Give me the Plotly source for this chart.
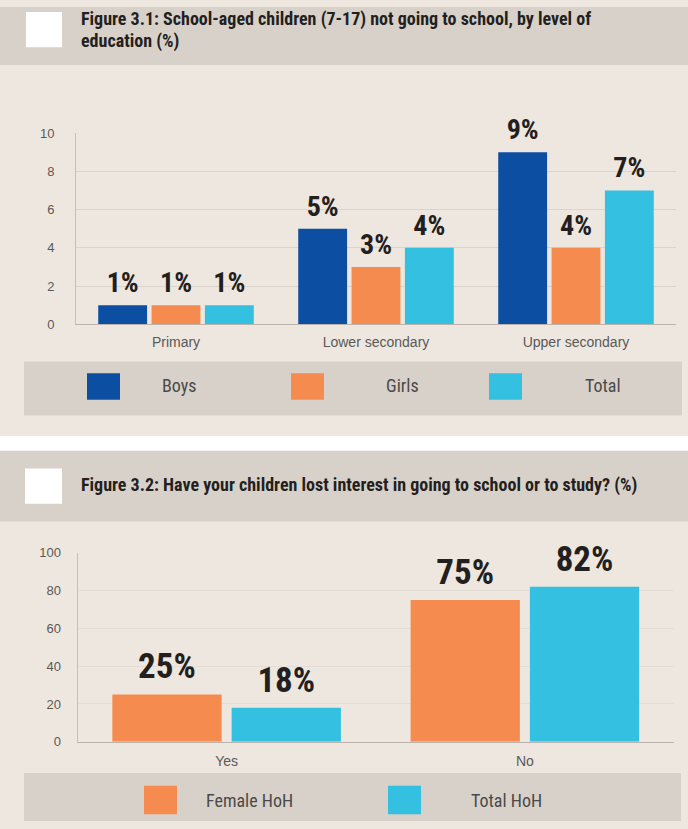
import plotly.graph_objects as go

W, H = 688, 829

# ---------------- data ----------------
levels = ["Primary", "Lower secondary", "Upper secondary"]
boys = [1, 5, 9]
girls = [1, 3, 4]
total = [1, 4, 7]
series1_names = ["Boys", "Girls", "Total"]

answers = ["Yes", "No"]
female_hoh = [25, 75]
total_hoh = [18, 82]
series2_names = ["Female HoH", "Total HoH"]

y1_ticks = [0, 2, 4, 6, 8, 10]
y2_ticks = [0, 20, 40, 60, 80, 100]

title1_lines = ["Figure 3.1: School-aged children (7-17) not going to school, by level of",
                "education (%)"]
title2 = "Figure 3.2: Have your children lost interest in going to school or to study? (%)"

# ---------------- styles ----------------
BLUE = "#0c4ea1"
ORANGE = "#f58b4f"
CYAN = "#33c0e1"
LIGHT_BG = "#eee7df"
BAND = "#d8d1c9"
DARK = "#231f20"
COND = "Roboto Condensed, Liberation Sans Narrow, DejaVu Sans Condensed, Roboto, sans-serif"
REG = "Liberation Sans, Arial, sans-serif"

colors1 = [BLUE, ORANGE, CYAN]
colors2 = [ORANGE, CYAN]


def px(x):
    return x / W


def py(y):
    return 1 - y / H


fig = go.Figure()

# chart 1 bars and labels
for name, vals, col in zip(series1_names, [boys, girls, total], colors1):
    fig.add_bar(x=levels, y=vals, name=name, marker_color=col, marker_line_width=0,
                xaxis="x", yaxis="y", showlegend=False, hoverinfo="skip")
for name, vals in zip(series1_names, [boys, girls, total]):
    fig.add_scatter(x=levels, y=vals, mode="markers+text", text=[f"{v}%" for v in vals],
                    textposition="top center", marker=dict(size=8, opacity=0),
                    textfont=dict(family=COND, size=28, color=DARK, weight="bold"),
                    cliponaxis=False, xaxis="x", yaxis="y", showlegend=False, hoverinfo="skip")

# chart 2 bars and labels
for name, vals, col in zip(series2_names, [female_hoh, total_hoh], colors2):
    fig.add_bar(x=answers, y=vals, name=name, marker_color=col, marker_line_width=0,
                xaxis="x2", yaxis="y2", showlegend=False, hoverinfo="skip")
for name, vals in zip(series2_names, [female_hoh, total_hoh]):
    fig.add_scatter(x=answers, y=vals, mode="markers+text", text=[f"{v}%" for v in vals],
                    textposition="top center", marker=dict(size=10, opacity=0),
                    textfont=dict(family=COND, size=35, color=DARK, weight="bold"),
                    cliponaxis=False, xaxis="x2", yaxis="y2", showlegend=False, hoverinfo="skip")

shapes = []
annotations = []


def rect(x0, y0, x1, y1, color):
    shapes.append(dict(type="rect", xref="paper", yref="paper", x0=px(x0), x1=px(x1),
                       y0=py(y1), y1=py(y0), fillcolor=color, line=dict(width=0), layer="below"))


# panel backgrounds
rect(0, 0, W, 59, BAND)
rect(0, 437, W, 452, "#ffffff")
rect(0, 452, W, 524, BAND)
rect(26, 5, 62, 41, "#ffffff")
rect(25, 470, 62, 506, "#ffffff")
rect(24, 361, 682, 416, BAND)
rect(24, 780, 681, 829, BAND)

# titles
for line, yc in zip(title1_lines, [12.7, 34.4]):
    annotations.append(dict(text=f"<b>{line}</b>", xref="paper", yref="paper", x=px(79), y=py(yc),
                            xanchor="left", yanchor="middle", align="left", showarrow=False,
                            font=dict(family=COND, size=18, color=DARK)))
annotations.append(dict(text=f"<b>{title2}</b>", xref="paper", yref="paper", x=px(79), y=py(486.7),
                        xanchor="left", yanchor="middle", align="left", showarrow=False,
                        font=dict(family=COND, size=18, color=DARK)))

# legends
leg1_sq = [87, 291, 489]
leg1_tx = [160, 384, 583]
for name, col, sx, tx in zip(series1_names, colors1, leg1_sq, leg1_tx):
    rect(sx, 373, sx + 33, 400, col)
    annotations.append(dict(text=name, xref="paper", yref="paper", x=px(tx), y=py(385),
                            xanchor="left", yanchor="middle", showarrow=False,
                            font=dict(family=COND, size=18, color="#4a4a4a")))
leg2_sq = [144, 388]
leg2_tx = [204, 469]
for name, col, sx, tx in zip(series2_names, colors2, leg2_sq, leg2_tx):
    rect(sx, 793, sx + 33, 822, col)
    annotations.append(dict(text=name, xref="paper", yref="paper", x=px(tx), y=py(808),
                            xanchor="left", yanchor="middle", showarrow=False,
                            font=dict(family=COND, size=18, color="#4a4a4a")))

ytickfont = dict(family=REG, size=13, color="#595959")
xtickfont = dict(family=REG, size=14, color="#595959")

fig.update_layout(
    width=W, height=H, margin=dict(l=0, r=0, t=0, b=0),
    paper_bgcolor=LIGHT_BG, plot_bgcolor="rgba(0,0,0,0)",
    barmode="group", bargap=0.2, bargroupgap=0.084,
    scattermode="group", scattergap=0.2,
    hovermode=False, showlegend=False,
    shapes=shapes, annotations=annotations,
    xaxis=dict(domain=[px(76), px(676)], anchor="y", type="category", showline=True,
               linecolor="#bab4ad", linewidth=1, ticks="outside", ticklen=5,
               tickcolor="rgba(0,0,0,0)", tickfont=xtickfont, showgrid=False, zeroline=False,
               fixedrange=True),
    yaxis=dict(domain=[py(323.3), py(128.3)], anchor="x", range=[0, 10], tickvals=y1_ticks,
               showgrid=True, gridcolor="#dbd4cc", gridwidth=1, showline=True,
               linecolor="#c5bfb8", ticks="outside", ticklen=18, tickcolor="rgba(0,0,0,0)",
               tickfont=ytickfont, zeroline=False, fixedrange=True),
    xaxis2=dict(domain=[px(77.5), px(674)], anchor="y2", type="category", showline=True,
                linecolor="#bab4ad", linewidth=1, ticks="outside", ticklen=6,
                tickcolor="rgba(0,0,0,0)", tickfont=xtickfont, showgrid=False, zeroline=False,
                fixedrange=True),
    yaxis2=dict(domain=[py(748.3), py(555.8)], anchor="x2", range=[0, 100], tickvals=y2_ticks,
                showgrid=True, gridcolor="#e4ddd5", gridwidth=1, showline=True,
                linecolor="#c5bfb8", ticks="outside", ticklen=13, tickcolor="rgba(0,0,0,0)",
                tickfont=ytickfont, zeroline=False, fixedrange=True),
)

fig.write_html("out.html", config={"displayModeBar": False})
